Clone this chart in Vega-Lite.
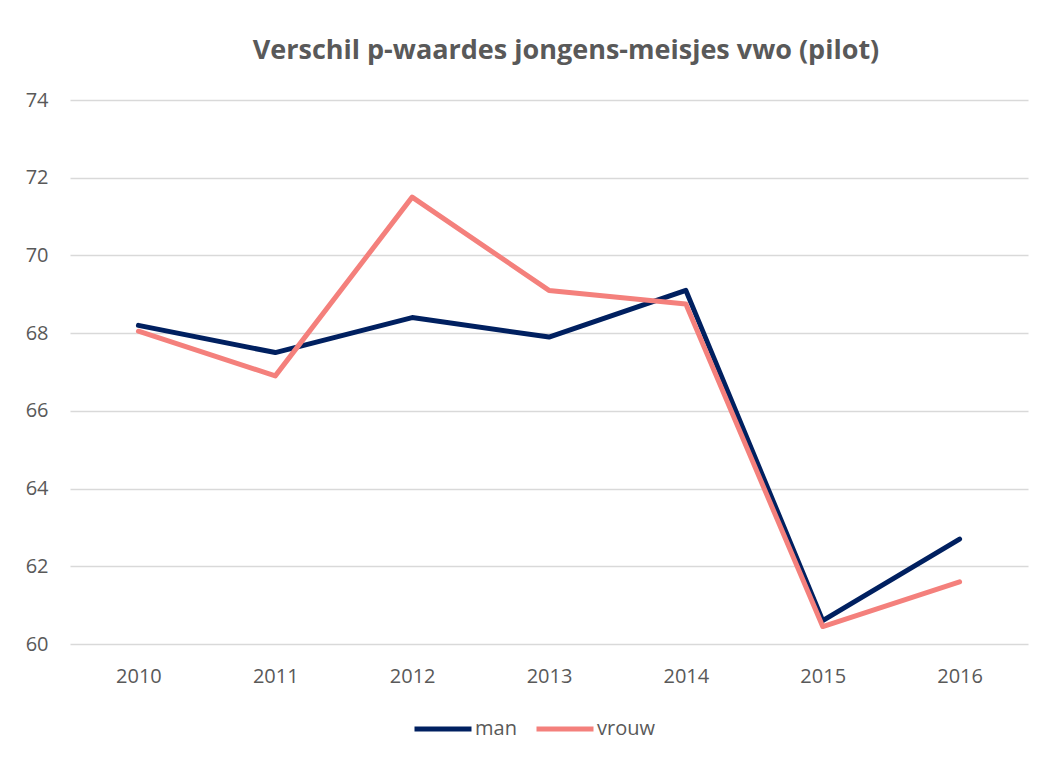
{
  "$schema": "https://vega.github.io/schema/vega-lite/v6.json",
  "autosize": "none",
  "width": 958,
  "height": 544,
  "padding": {"left": 70, "top": 100, "right": 16, "bottom": 114},
  "background": "white",
  "title": {
    "text": "Verschil p-waardes jongens-meisjes vwo (pilot)",
    "font": "Open Sans",
    "fontSize": 27,
    "fontWeight": "bold",
    "color": "#595959",
    "anchor": "middle",
    "dx": 17,
    "baseline": "alphabetic",
    "offset": 4
  },
  "data": {
    "values": [
      {"jaar": "2010", "geslacht": "man", "p": 68.2},
      {"jaar": "2011", "geslacht": "man", "p": 67.5},
      {"jaar": "2012", "geslacht": "man", "p": 68.4},
      {"jaar": "2013", "geslacht": "man", "p": 67.9},
      {"jaar": "2014", "geslacht": "man", "p": 69.1},
      {"jaar": "2015", "geslacht": "man", "p": 60.6},
      {"jaar": "2016", "geslacht": "man", "p": 62.7},
      {"jaar": "2010", "geslacht": "vrouw", "p": 68.05},
      {"jaar": "2011", "geslacht": "vrouw", "p": 66.9},
      {"jaar": "2012", "geslacht": "vrouw", "p": 71.5},
      {"jaar": "2013", "geslacht": "vrouw", "p": 69.1},
      {"jaar": "2014", "geslacht": "vrouw", "p": 68.75},
      {"jaar": "2015", "geslacht": "vrouw", "p": 60.45},
      {"jaar": "2016", "geslacht": "vrouw", "p": 61.6}
    ]
  },
  "mark": {"type": "line", "strokeWidth": 5, "strokeCap": "round", "strokeJoin": "round"},
  "encoding": {
    "x": {
      "field": "jaar",
      "type": "ordinal",
      "scale": {"type": "point", "padding": 0.5},
      "axis": {
        "title": null,
        "labelAngle": 0,
        "domain": false,
        "ticks": false,
        "grid": false,
        "labelFont": "Open Sans",
        "labelFontSize": 20,
        "labelColor": "#595959",
        "labelPadding": 22
      }
    },
    "y": {
      "field": "p",
      "type": "quantitative",
      "scale": {"domain": [60, 74], "nice": false, "zero": false},
      "axis": {
        "title": null,
        "values": [60, 62, 64, 66, 68, 70, 72, 74],
        "domain": false,
        "ticks": false,
        "grid": true,
        "gridColor": "#D9D9D9",
        "gridWidth": 1.5,
        "labelFont": "Open Sans",
        "labelFontSize": 20,
        "labelColor": "#595959",
        "labelPadding": 22
      }
    },
    "color": {
      "field": "geslacht",
      "type": "nominal",
      "scale": {"domain": ["man", "vrouw"], "range": ["#002060", "#F4807C"]},
      "legend": {
        "title": null,
        "orient": "none",
        "direction": "horizontal",
        "legendX": 342,
        "legendY": 598,
        "symbolType": "stroke",
        "symbolStrokeWidth": 5,
        "symbolSize": 3249,
        "labelFont": "Open Sans",
        "labelFontSize": 20,
        "labelColor": "#595959",
        "labelOffset": 1,
        "columnPadding": 9
      }
    }
  },
  "config": {"view": {"stroke": null}}
}
